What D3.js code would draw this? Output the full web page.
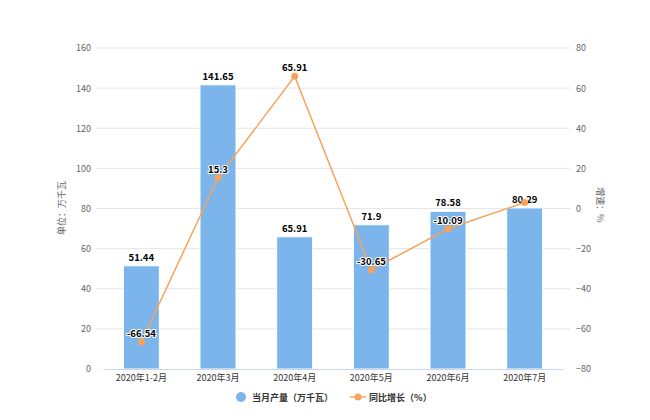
<!DOCTYPE html>
<html>
<head>
<meta charset="utf-8">
<script src="https://cdn.jsdelivr.net/npm/d3@7"></script>
<style>
  body { margin: 0; background: #fff; }
  text { font-family: "Noto Sans CJK SC", "DejaVu Sans", sans-serif; }
</style>
</head>
<body>
<div id="chart"></div>
<script>
// Data
var categories = ["2020年1-2月", "2020年3月", "2020年4月", "2020年5月", "2020年6月", "2020年7月"];
var output = [51.44, 141.65, 65.91, 71.9, 78.58, 80.29];
var growth = [-66.54, 15.3, 65.91, -30.65, -10.09, 3];
var leftTicks = [0, 20, 40, 60, 80, 100, 120, 140, 160];
var rightTicks = [-80, -60, -40, -20, 0, 20, 40, 60, 80];

var svgWidth = 650;
var svgHeight = 420;

var margin = { top: 48, right: 87, bottom: 51, left: 103 };
var width = svgWidth - margin.left - margin.right;
var height = svgHeight - margin.top - margin.bottom;

var svg = d3.select("#chart")
  .append("svg")
  .attr("width", svgWidth)
  .attr("height", svgHeight);

var chartGroup = svg.append("g")
  .attr("transform", `translate(${margin.left}, ${margin.top})`);

// Scales
var xScale = d3.scaleBand()
  .domain(categories)
  .range([0, width]);

var yLeft = d3.scaleLinear().domain([0, 160]).range([height, 0]);
var yRight = d3.scaleLinear().domain([-80, 80]).range([height, 0]);

// Grid lines
chartGroup.selectAll("line.grid")
  .data(leftTicks.slice(1))
  .enter()
  .append("line")
  .attr("x1", -7)
  .attr("x2", width + 7)
  .attr("y1", d => yLeft(d))
  .attr("y2", d => yLeft(d))
  .attr("stroke", "#e6e6e6")
  .attr("stroke-width", 1);

// Left axis
var leftAxis = chartGroup.append("g")
  .attr("transform", "translate(-7,0)")
  .call(d3.axisLeft(yLeft).tickValues(leftTicks).tickSize(0).tickPadding(5));
leftAxis.select(".domain").remove();
leftAxis.selectAll("text").attr("fill", "#666").attr("font-size", 9);

// Right axis
var rightAxis = chartGroup.append("g")
  .attr("transform", `translate(${width + 7},0)`)
  .call(d3.axisRight(yRight).tickValues(rightTicks).tickSize(0).tickPadding(6));
rightAxis.select(".domain").remove();
rightAxis.selectAll("text").attr("fill", "#666").attr("font-size", 9);

// Bars
var barWidth = 36;
chartGroup.selectAll("rect.bar")
  .data(output)
  .enter()
  .append("rect")
  .attr("x", (d, i) => xScale(categories[i]) + xScale.bandwidth() / 2 - barWidth / 2)
  .attr("y", d => yLeft(d))
  .attr("width", barWidth)
  .attr("height", d => height - yLeft(d))
  .attr("fill", "#7cb5ec")
  .attr("stroke", "#fff")
  .attr("stroke-width", 1);

// Bottom axis
var xAxis = chartGroup.append("g")
  .attr("transform", `translate(0, ${height})`)
  .call(d3.axisBottom(xScale).tickSize(0).tickPadding(6));
xAxis.select(".domain").attr("stroke", "#ccd6eb");
xAxis.selectAll("text").attr("fill", "#333").attr("font-size", 9);

// Bar labels
chartGroup.selectAll("text.barLabel")
  .data(output)
  .enter()
  .append("text")
  .attr("x", (d, i) => xScale(categories[i]) + xScale.bandwidth() / 2)
  .attr("y", d => yLeft(d) - 5)
  .attr("text-anchor", "middle")
  .attr("font-size", 9.5)
  .attr("font-weight", "bold")
  .attr("fill", "#000")
  .attr("stroke", "#fff")
  .attr("stroke-width", 2)
  .attr("paint-order", "stroke")
  .text(d => d);

// Line
var line = d3.line()
  .x((d, i) => xScale(categories[i]) + xScale.bandwidth() / 2)
  .y(d => yRight(d));

chartGroup.append("path")
  .datum(growth)
  .attr("d", line)
  .attr("fill", "none")
  .attr("stroke", "#f7a35c")
  .attr("stroke-width", 1.5);

chartGroup.selectAll("circle.point")
  .data(growth)
  .enter()
  .append("circle")
  .attr("cx", (d, i) => xScale(categories[i]) + xScale.bandwidth() / 2)
  .attr("cy", d => yRight(d))
  .attr("r", 3.5)
  .attr("fill", "#f7a35c");

// Line labels (last one hidden behind bar label)
chartGroup.selectAll("text.lineLabel")
  .data(growth.slice(0, 5))
  .enter()
  .append("text")
  .attr("x", (d, i) => xScale(categories[i]) + xScale.bandwidth() / 2)
  .attr("y", d => yRight(d) - 5)
  .attr("text-anchor", "middle")
  .attr("font-size", 9.5)
  .attr("font-weight", "bold")
  .attr("fill", "#000")
  .attr("stroke", "#fff")
  .attr("stroke-width", 2)
  .attr("paint-order", "stroke")
  .text(d => d);

// Axis titles
svg.append("text")
  .attr("transform", "translate(65, 208) rotate(-90)")
  .attr("text-anchor", "middle")
  .attr("font-size", 9)
  .attr("fill", "#666")
  .text("单位：万千瓦");

svg.append("text")
  .attr("transform", "translate(597, 205) rotate(90)")
  .attr("text-anchor", "middle")
  .attr("font-size", 9)
  .attr("fill", "#666")
  .text("增速：%");

// Legend
var legend = svg.append("g");
legend.append("circle")
  .attr("cx", 241).attr("cy", 397).attr("r", 5)
  .attr("fill", "#7cb5ec");
legend.append("text")
  .attr("x", 252).attr("y", 400.5)
  .attr("font-size", 9).attr("font-weight", "bold").attr("fill", "#333")
  .text("当月产量（万千瓦）");
legend.append("line")
  .attr("x1", 350).attr("x2", 366).attr("y1", 397).attr("y2", 397)
  .attr("stroke", "#f7a35c").attr("stroke-width", 1.5);
legend.append("circle")
  .attr("cx", 358).attr("cy", 397).attr("r", 3.5)
  .attr("fill", "#f7a35c");
legend.append("text")
  .attr("x", 369).attr("y", 400.5)
  .attr("font-size", 9).attr("font-weight", "bold").attr("fill", "#333")
  .text("同比增长（%）");
</script>
</body>
</html>
